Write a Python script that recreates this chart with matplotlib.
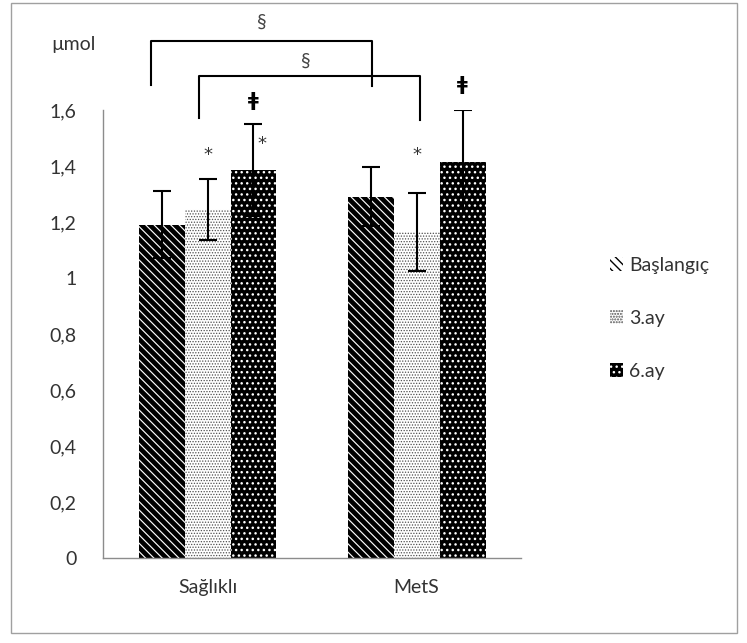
import numpy as np
import matplotlib.pyplot as plt
from matplotlib.patches import Rectangle

# veriler
gruplar = ["Sağlıklı", "MetS"]
seriler = ["Başlangıç", "3.ay", "6.ay"]
degerler = [[1.19, 1.29], [1.245, 1.165], [1.385, 1.415]]
hatalar = [[0.12, 0.105], [0.11, 0.14], [0.165, 0.185]]
yticks = [0, 0.2, 0.4, 0.6, 0.8, 1.0, 1.2, 1.4, 1.6]
ytick_etiket = ["0", "0,2", "0,4", "0,6", "0,8", "1", "1,2", "1,4", "1,6"]

plt.rcParams['font.family'] = ['Lato', 'DejaVu Sans']

fig = plt.figure(figsize=(7.47, 6.43), dpi=100)
ax = fig.add_axes([0.1379, 0.1322, 0.5596, 0.6968])

x = np.arange(len(gruplar))
w = 0.22
stiller = [
    dict(facecolor="white", edgecolor="black", hatch="\\\\\\\\"),
    dict(facecolor="white", edgecolor="#505050", hatch="......"),
    dict(facecolor="black", edgecolor="white", hatch="..."),
]
tarama_kalinlik = [3.4, 0.6, 1.0]
for i, ad in enumerate(seriler):
    pos = x + (i - 1) * w
    with plt.rc_context({'hatch.linewidth': tarama_kalinlik[i]}):
        ax.bar(pos, degerler[i], w, linewidth=0, label=ad, **stiller[i])
    ax.errorbar(pos, degerler[i], yerr=hatalar[i], fmt="none", ecolor="black",
                elinewidth=1.5, capsize=6.5, capthick=1.5)

ax.set_xlim(-0.5, 1.5)
ax.set_ylim(0, 1.6)
ax.set_yticks(yticks)
ax.set_yticklabels(ytick_etiket)
ax.set_xticks(x)
ax.set_xticklabels(gruplar)
ax.tick_params(axis="y", length=0, pad=19, labelsize=14, colors="#333333")
ax.tick_params(axis="x", length=0, pad=15, labelsize=14, colors="#333333")
for s in ["top", "right"]:
    ax.spines[s].set_visible(False)
for s in ["left", "bottom"]:
    ax.spines[s].set_color("#8c8c8c")
    ax.spines[s].set_linewidth(1)

# birim
ax.text(-0.64, 1.835, "µmol", fontsize=14, ha="center", va="center",
        color="#333333", clip_on=False)

# anlamlilik isaretleri (köşeli çizgiler)
ax.plot([-0.27, -0.27, 0.787, 0.787], [1.689, 1.846, 1.846, 1.685], color="black",
        lw=1.5, clip_on=False)
ax.plot([-0.04, -0.04, 1.017, 1.017], [1.571, 1.721, 1.721, 1.564], color="black",
        lw=1.5, clip_on=False)
ax.text(0.26, 1.915, "§", fontsize=14, ha="center", va="center", color="#444444",
        clip_on=False)
ax.text(0.47, 1.775, "§", fontsize=14, ha="center", va="center", color="#444444",
        clip_on=False)

# yildiz ve ǂ
yildiz = dict(fontsize=13, ha="center", va="center", color="#333333", family="DejaVu Sans")
ax.text(0.0, 1.44, "*", **yildiz)
ax.text(0.26, 1.48, "*", **yildiz)
ax.text(1.0, 1.44, "*", **yildiz)
ax.text(0.22, 1.635, "ǂ", fontsize=14, fontweight="bold", ha="center", va="center",
        family="DejaVu Sans", clip_on=False)
ax.text(1.22, 1.69, "ǂ", fontsize=14, fontweight="bold", ha="center", va="center",
        family="DejaVu Sans", clip_on=False)

leg = ax.legend(loc="center left", bbox_to_anchor=(1.17, 0.535), frameon=False,
                fontsize=14, handlelength=0.7, handleheight=0.7, handletextpad=0.3,
                labelspacing=1.85)
for t in leg.get_texts():
    t.set_color("#333333")

# dis cerceve
fig.patches.append(Rectangle((0.0147, 0.0155), 0.972, 0.98, transform=fig.transFigure,
                             fill=False, edgecolor="#a0a0a0", linewidth=1))

fig.savefig("out.png", dpi=100)
